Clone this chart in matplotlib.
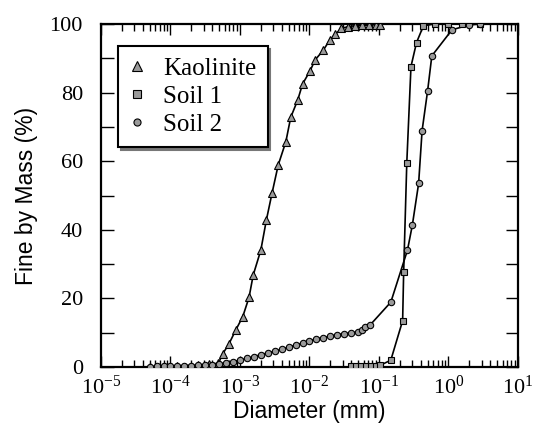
import matplotlib
matplotlib.use("Agg")
import matplotlib.pyplot as plt
import numpy as np
from matplotlib.ticker import LogLocator, FixedLocator, NullFormatter
from matplotlib.lines import Line2D

# ---- data (log10 of diameter in mm, percent finer) ----
kaol_logd = [-4.29, -3.90, -3.60, -3.45, -3.31, -3.25, -3.16, -3.06, -2.96, -2.87,
             -2.81, -2.70, -2.62, -2.54, -2.45, -2.34, -2.27, -2.17, -2.10, -1.99,
             -1.92, -1.80, -1.71, -1.63, -1.54, -1.45, -1.35, -1.25, -1.15, -1.05, -0.99]
kaol_pct = [0.0, 0.3, 0.5, 0.8, 1.1, 3.8, 6.7, 10.8, 14.7, 20.3,
            26.8, 34.1, 42.9, 50.6, 58.9, 65.7, 72.8, 77.8, 82.5, 86.4,
            89.5, 92.4, 95.3, 97.0, 98.7, 99.2, 99.5, 99.6, 99.7, 99.8, 99.8]

soil1_logd = [-1.40, -1.33, -1.26, -1.19, -1.12, -1.05, -0.98, -0.83, -0.66, -0.645,
              -0.60, -0.54, -0.46, -0.36, -0.20, 0.00, 0.20, 0.45]
soil1_pct = [0.3, 0.3, 0.3, 0.4, 0.4, 0.4, 0.5, 2.0, 13.5, 27.8,
             59.6, 87.6, 94.6, 99.5, 100.0, 100.0, 100.0, 100.0]

soil2_logd = [-4.30, -4.20, -4.10, -4.00, -3.90, -3.80, -3.70, -3.60, -3.50, -3.40,
              -3.30, -3.20, -3.10, -3.00, -2.90, -2.80, -2.70, -2.60, -2.50, -2.40,
              -2.30, -2.20, -2.10, -2.00, -1.90, -1.80, -1.70, -1.60, -1.50, -1.40,
              -1.30, -1.25, -1.20, -1.13, -0.83, -0.59, -0.52, -0.43, -0.38, -0.30,
              -0.24, 0.05, 0.29, 0.45]
soil2_pct = [0.1, 0.2, 0.2, 0.3, 0.3, 0.4, 0.4, 0.5, 0.6, 0.7,
             0.9, 1.2, 1.6, 2.0, 2.5, 3.0, 3.6, 4.1, 4.6, 5.2,
             5.8, 6.4, 7.0, 7.6, 8.2, 8.6, 9.0, 9.4, 9.7, 10.0,
             10.2, 10.8, 11.6, 12.2, 18.9, 34.1, 41.4, 53.5, 68.9, 80.6,
             90.7, 98.3, 99.7, 100.0]

series_names = ["Kaolinite", "Soil 1", "Soil 2"]
x_tick_exps = [-5, -4, -3, -2, -1, 0, 1]
y_ticks = [0, 20, 40, 60, 80, 100]

# ---- styling ----
serif = "Liberation Serif"
sans = "Liberation Sans"
plt.rcParams["mathtext.fontset"] = "custom"
plt.rcParams["mathtext.rm"] = serif
plt.rcParams["mathtext.it"] = serif + ":italic"
plt.rcParams["mathtext.bf"] = serif + ":bold"

fig = plt.figure(figsize=(5.42, 4.30), dpi=100)
ax = fig.add_axes([101 / 542, 63 / 430, 417 / 542, 343 / 430])

gray = "#9a9a9a"
markers = ["^", "s", "o"]
msizes = [6.0, 4.6, 4.6]
data = [(kaol_logd, kaol_pct), (soil1_logd, soil1_pct), (soil2_logd, soil2_pct)]

handles = []
for (ld, pc), mk, ms, name in zip(data, markers, msizes, series_names):
    d = 10.0 ** np.array(ld)
    ax.plot(d, pc, color="black", lw=1.2, zorder=2)
    ax.plot(d, pc, linestyle="none", marker=mk, ms=ms, mfc=gray, mec="black",
            mew=0.8, zorder=3)
    handles.append(Line2D([], [], linestyle="none", marker=mk, ms=ms + 0.5,
                          mfc=gray, mec="black", mew=0.8, label=name))

ax.set_xscale("log")
ax.set_xlim(1e-5, 10)
ax.set_ylim(0, 100)

ax.xaxis.set_major_locator(FixedLocator([10.0 ** e for e in x_tick_exps]))
ax.set_xticklabels([r"$10^{%d}$" % e for e in x_tick_exps])
ax.xaxis.set_minor_locator(LogLocator(base=10, subs=np.arange(2, 10), numticks=20))
ax.xaxis.set_minor_formatter(NullFormatter())
ax.set_yticks(y_ticks)
ax.set_yticks(np.arange(10, 100, 20), minor=True)

ax.tick_params(axis="both", which="both", direction="in", top=True, right=True,
               width=1.0)
ax.tick_params(axis="x", which="major", length=8, pad=6)
ax.tick_params(axis="x", which="minor", length=5)
ax.tick_params(axis="y", which="both", length=9, pad=13)
for lab in ax.get_xticklabels() + ax.get_yticklabels():
    lab.set_fontfamily(serif)
    lab.set_fontsize(16)

for sp in ax.spines.values():
    sp.set_linewidth(1.6)

ax.set_xlabel("Diameter (mm)", fontfamily=sans, fontsize=16.5, labelpad=1)
ax.set_ylabel("Fine by Mass (%)", fontfamily=sans, fontsize=16.5, labelpad=8)

leg = ax.legend(handles=handles, loc="upper left",
                bbox_to_anchor=(0.041, 0.936), frameon=True, fancybox=False,
                shadow={"color": "#777777", "alpha": 1.0}, edgecolor="black",
                prop={"family": serif, "size": 18}, handletextpad=0.75,
                borderpad=0.45, labelspacing=0.23, handlelength=0.6,
                borderaxespad=0)
leg.get_frame().set_linewidth(1.5)

fig.savefig("out.png", dpi=100, facecolor="white")
